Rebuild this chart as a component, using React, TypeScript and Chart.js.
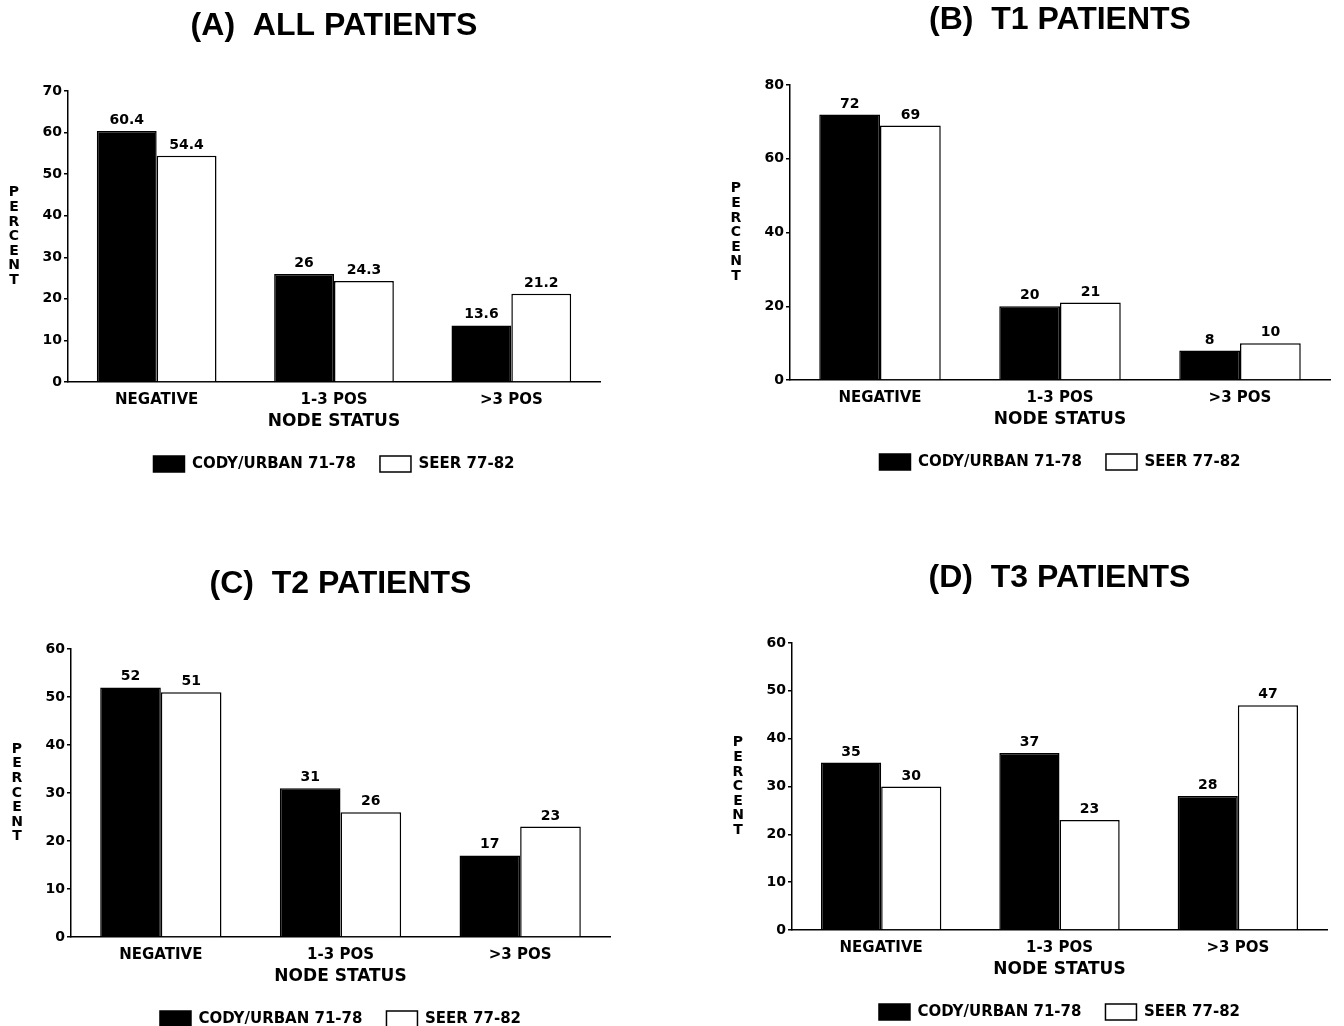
import React, { useEffect, useRef } from "react";
import { Chart, registerables } from "chart.js";

Chart.register(...registerables);

// ---------------- data ----------------
const categories = ["NEGATIVE", "1-3 POS", ">3 POS"];
const seriesNames = ["CODY/URBAN 71-78", "SEER 77-82"];

const allCody = [60.4, 26, 13.6];
const allSeer = [54.4, 24.3, 21.2];
const t1Cody = [72, 20, 8];
const t1Seer = [69, 21, 10];
const t2Cody = [52, 31, 17];
const t2Seer = [51, 26, 23];
const t3Cody = [35, 37, 28];
const t3Seer = [30, 23, 47];

const panelTitles = ["(A)  ALL PATIENTS", "(B)  T1 PATIENTS", "(C)  T2 PATIENTS", "(D)  T3 PATIENTS"];
const yMaxes = [70, 80, 60, 60];
const ySteps = [10, 20, 10, 10];
const xTitle = "NODE STATUS";
const yTitle = "PERCENT";

// ---------------- layout (page pixel boxes of each plot area) ----------------
const plotBoxes = [
  { l: 68, t: 91, r: 600, b: 382 },
  { l: 790, t: 85, r: 1330, b: 380 },
  { l: 71, t: 649, r: 610, b: 937 },
  { l: 792, t: 643, r: 1327, b: 930 },
];

const panels = [
  { title: panelTitles[0], cody: allCody, seer: allSeer, max: yMaxes[0], step: ySteps[0], box: plotBoxes[0] },
  { title: panelTitles[1], cody: t1Cody, seer: t1Seer, max: yMaxes[1], step: ySteps[1], box: plotBoxes[1] },
  { title: panelTitles[2], cody: t2Cody, seer: t2Seer, max: yMaxes[2], step: ySteps[2], box: plotBoxes[2] },
  { title: panelTitles[3], cody: t3Cody, seer: t3Seer, max: yMaxes[3], step: ySteps[3], box: plotBoxes[3] },
];

const LABEL_FAMILY = '"DejaVu Sans", sans-serif';
const TITLE_FAMILY = '"Liberation Sans", Arial, sans-serif';

const valueLabels = {
  id: "valueLabels",
  afterDatasetsDraw(chart: any) {
    const ctx = chart.ctx;
    ctx.save();
    ctx.font = `bold 14px ${LABEL_FAMILY}`;
    ctx.fillStyle = "#000";
    ctx.textAlign = "center";
    ctx.textBaseline = "alphabetic";
    chart.data.datasets.forEach((ds: any, i: number) => {
      chart.getDatasetMeta(i).data.forEach((bar: any, j: number) => {
        ctx.fillText(String(ds.data[j]), bar.x, bar.y - 7);
      });
    });
    ctx.restore();
  },
};

const stackedYTitle = {
  id: "stackedYTitle",
  afterDraw(chart: any) {
    const { ctx, chartArea } = chart;
    const letters = yTitle.split("");
    const step = 14.6;
    const cx = chartArea.left - 54;
    const cy = (chartArea.top + chartArea.bottom) / 2;
    ctx.save();
    ctx.font = `bold 14px ${LABEL_FAMILY}`;
    ctx.fillStyle = "#000";
    ctx.textAlign = "center";
    ctx.textBaseline = "middle";
    letters.forEach((ch, i) => {
      ctx.fillText(ch, cx, cy + (i - (letters.length - 1) / 2) * step);
    });
    ctx.restore();
  },
};

function Panel({ cfg }: { cfg: any }) {
  const ref = useRef<HTMLCanvasElement>(null);
  const x0 = cfg.box.l - 68;
  const y0 = cfg.box.t - 91;
  const width = cfg.box.r - x0 + 8;
  const height = cfg.box.b - y0 + 104;

  useEffect(() => {
    if (!ref.current) return;
    const chart = new Chart(ref.current, {
      type: "bar",
      data: {
        labels: categories,
        datasets: [
          { label: seriesNames[0], data: cfg.cody, backgroundColor: "#000", borderColor: "#000", borderWidth: 1.5 },
          { label: seriesNames[1], data: cfg.seer, backgroundColor: "#fff", borderColor: "#000", borderWidth: 1.5 },
        ],
      },
      options: {
        responsive: false,
        animation: false,
        devicePixelRatio: 1,
        layout: { padding: { left: 28, right: 8, top: 0, bottom: 4 } },
        datasets: { bar: { categoryPercentage: 0.675, barPercentage: 1 } },
        scales: {
          x: {
            grid: { display: false },
            border: { display: true, color: "#000", width: 1.5 },
            ticks: { color: "#000", font: { family: LABEL_FAMILY, size: 15, weight: "bold" }, padding: 1 },
            title: {
              display: true,
              text: xTitle,
              color: "#000",
              font: { family: LABEL_FAMILY, size: 17, weight: "bold" },
              padding: { top: 0, bottom: 0 },
            },
            afterFit: (s: any) => {
              s.height = 50;
            },
          },
          y: {
            min: 0,
            max: cfg.max,
            ticks: { stepSize: cfg.step, color: "#000", font: { family: LABEL_FAMILY, size: 14, weight: "bold" }, padding: 2 },
            grid: { display: true, drawOnChartArea: false, drawTicks: true, tickLength: 4, color: "#000", lineWidth: 1.5 },
            border: { display: true, color: "#000", width: 1.5 },
            afterFit: (s: any) => {
              s.width = 40;
            },
          },
        },
        plugins: {
          title: {
            display: true,
            text: cfg.title,
            fullSize: false,
            color: "#000",
            font: { family: TITLE_FAMILY, size: 32, weight: "bold" },
            padding: { top: 6.8, bottom: 45.8 },
          },
          legend: {
            display: true,
            position: "bottom",
            fullSize: false,
            labels: {
              color: "#000",
              font: { family: LABEL_FAMILY, size: 15, weight: "bold" },
              boxWidth: 31,
              boxHeight: 16,
              padding: 24,
            },
          },
          tooltip: { enabled: false },
        },
      },
      plugins: [valueLabels, stackedYTitle],
    } as any);
    return () => chart.destroy();
  }, []);

  return (
    <canvas
      ref={ref}
      width={width}
      height={height}
      style={{ position: "absolute", left: x0, top: y0, width, height }}
    />
  );
}

export default function App() {
  return (
    <div
      style={{
        position: "absolute",
        left: 0,
        top: 0,
        width: 1344,
        height: 1026,
        overflow: "hidden",
        background: "#fff",
      }}
    >
      {panels.map((p, i) => (
        <Panel key={i} cfg={p} />
      ))}
    </div>
  );
}
